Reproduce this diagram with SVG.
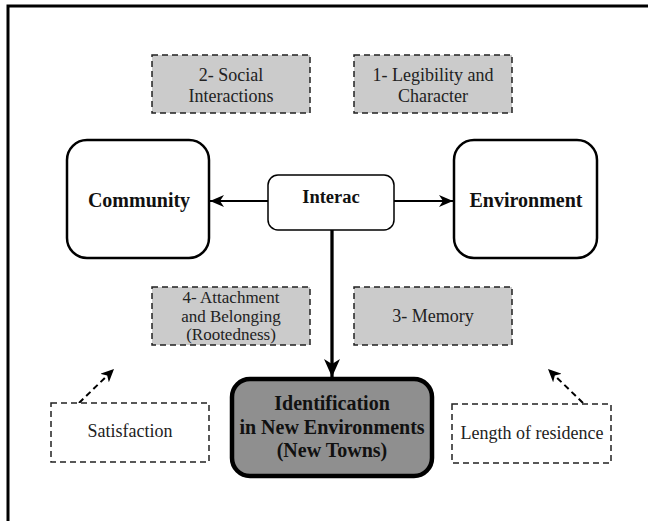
<svg xmlns="http://www.w3.org/2000/svg" width="648" height="521" viewBox="0 0 648 521">
<defs>
<style>
.frame{fill:none;stroke:#000;stroke-width:3}
.gbox{fill:#cbcbcb;stroke:#222;stroke-width:1.5;stroke-dasharray:6 4}
.wbox{fill:#fff;stroke:#222;stroke-width:1.5;stroke-dasharray:6 4}
.main{fill:#fff;stroke:#000;stroke-width:2.5}
.mid{fill:#fff;stroke:#000;stroke-width:1.5}
.idb{fill:#8f8f8f;stroke:#000;stroke-width:4.5}
.t{font-family:'Liberation Serif','Tinos','Times New Roman','Noto Serif','DejaVu Serif',serif;font-size:18px;fill:#222;text-anchor:middle}
.b{font-family:'Liberation Serif','Tinos','Times New Roman','Noto Serif','DejaVu Serif',serif;font-size:20px;font-weight:bold;fill:#111;text-anchor:middle}
.c{fill:none;stroke:#000}
.solid{stroke-width:2}
.thick{stroke-width:3.3}
.dash{stroke-width:2;stroke-dasharray:6 4}
</style>
<marker id="arr" viewBox="0 0 14 12" refX="14" refY="6" markerWidth="14" markerHeight="12" markerUnits="userSpaceOnUse" orient="auto">
<path d="M0,0 L14,6 L0,12 L4,6 Z" fill="#000"/>
</marker>
<marker id="arrBig" viewBox="0 0 18 16" refX="18" refY="8" markerWidth="18" markerHeight="16" markerUnits="userSpaceOnUse" orient="auto">
<path d="M0,0 L18,8 L0,16 L5,8 Z" fill="#000"/>
</marker>
<marker id="arrS" viewBox="0 0 13 12" refX="13" refY="6" markerWidth="13" markerHeight="12" markerUnits="userSpaceOnUse" orient="auto">
<path d="M0,0 L13,6 L0,12 L3.5,6 Z" fill="#000"/>
</marker>
</defs>
<rect width="648" height="521" fill="#fff"/>
<path class="frame" d="M8,521 V6 H648"/>

<g id="connectors">
<line class="c solid" x1="268" y1="201" x2="210" y2="201" marker-end="url(#arr)"/>
<line class="c solid" x1="394" y1="201" x2="453" y2="201" marker-end="url(#arr)"/>
<line class="c thick" x1="332" y1="230" x2="332" y2="377" marker-end="url(#arrBig)"/>
<line class="c dash" x1="79" y1="403" x2="114" y2="369" marker-end="url(#arrS)"/>
<line class="c dash" x1="583" y1="403" x2="548" y2="369" marker-end="url(#arrS)"/>
</g>

<g id="social">
<rect class="gbox" x="152" y="55" width="158" height="58"/>
<text class="t" x="231" y="81">2- Social</text>
<text class="t" x="231" y="102">Interactions</text>
</g>
<g id="legibility">
<rect class="gbox" x="354" y="55" width="158" height="58"/>
<text class="t" x="433" y="81">1- Legibility and</text>
<text class="t" x="433" y="102">Character</text>
</g>
<g id="community">
<rect class="main" x="67" y="140" width="142" height="118" rx="20"/>
<text class="b" x="139" y="207">Community</text>
</g>
<g id="interac">
<rect class="mid" x="268" y="175" width="126" height="55" rx="10"/>
<text class="b" x="331" y="203" style="font-size:18.5px">Interac</text>
</g>
<g id="environment">
<rect class="main" x="454" y="140" width="143" height="118" rx="20"/>
<text class="b" x="526" y="207">Environment</text>
</g>
<g id="attachment">
<rect class="gbox" x="152" y="287" width="158" height="58"/>
<text class="t" x="231" y="303" style="font-size:17px">4- Attachment</text>
<text class="t" x="231" y="321.5" style="font-size:17px">and Belonging</text>
<text class="t" x="231" y="340" style="font-size:17px">(Rootedness)</text>
</g>
<g id="memory">
<rect class="gbox" x="354" y="287" width="158" height="58"/>
<text class="t" x="433" y="322">3- Memory</text>
</g>
<g id="satisfaction">
<rect class="wbox" x="51" y="403" width="158" height="59"/>
<text class="t" x="130" y="437">Satisfaction</text>
</g>
<g id="identification">
<rect class="idb" x="232" y="379" width="200" height="97" rx="18"/>
<text class="b" x="332" y="410">Identification</text>
<text class="b" x="332" y="434">in New Environments</text>
<text class="b" x="332" y="457">(New Towns)</text>
</g>
<g id="length">
<rect class="wbox" x="452" y="404" width="159" height="59"/>
<text class="t" x="532" y="439">Length of residence</text>
</g>
</svg>
